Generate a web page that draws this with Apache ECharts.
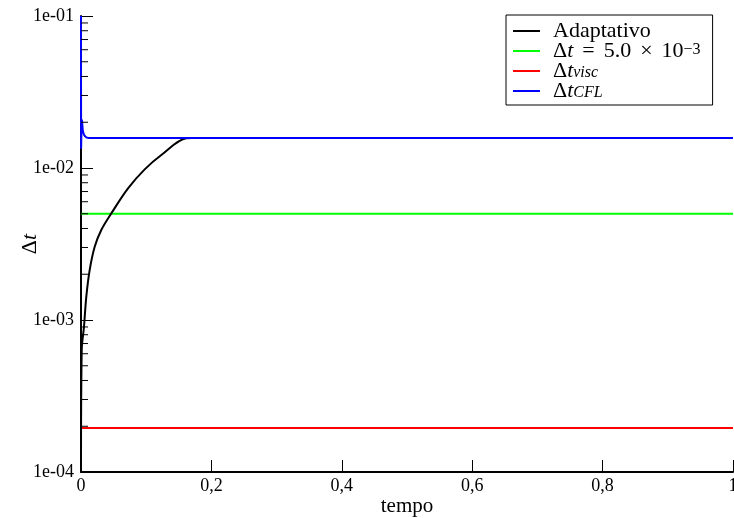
<!DOCTYPE html>
<html>
<head>
<meta charset="utf-8">
<script src="https://cdn.jsdelivr.net/npm/echarts@6/dist/echarts.min.js"></script>
<style>html,body{margin:0;padding:0;background:#fff}#c{width:734px;height:518px}</style>
</head>
<body>
<div id="c"></div>
<script>
// ---- data ----
var xTicks = [0, 0.2, 0.4, 0.6, 0.8, 1];
var yDecades = [1e-4, 1e-3, 1e-2, 1e-1];
var seriesNames = ['Adaptativo', 'dt_fixed', 'dt_visc', 'dt_cfl'];
var adaptT = [0, 0.0011, 0.0046, 0.0081, 0.0133, 0.0210, 0.0311, 0.0465, 0.0721, 0.0977, 0.1232, 0.1615, 0.17, 1];
var adaptV = [1e-4, 0.000635, 0.000904, 0.00142, 0.00213, 0.00303, 0.00391, 0.00503, 0.00735, 0.0098, 0.01218, 0.01569, 0.01575, 0.01575];
var fixedT = [0, 1];
var fixedV = [0.005, 0.005];
var viscT = [0, 1];
var viscV = [0.000195, 0.000195];
var cflT = [0, 0.0002, 0.0015, 0.003, 0.006, 0.012, 1];
var cflV = [0.1, 0.0135, 0.0207, 0.0175, 0.0162, 0.01575, 0.01575];
var minorMult = [2, 3, 4, 5, 6, 7, 8, 9];

function pairs(t, v) { return t.map(function (x, i) { return [x, v[i]]; }); }
var minorTicks = [];
yDecades.slice(0, 3).forEach(function (d) { minorMult.forEach(function (m) { minorTicks.push([0, d * m]); }); });

var FONT = '"Liberation Serif", "DejaVu Serif", serif';
var chart = echarts.init(document.getElementById('c'), null, { renderer: 'canvas' });

var legendLabels = {
  'Adaptativo': 'Adaptativo',
  'dt_fixed': '{n|Δ}{i|t}{op|=}5.0{op|×}10{sup|−3}',
  'dt_visc': '{n|Δ}{i|t}{sub|visc}',
  'dt_cfl': '{n|Δ}{i|t}{sub|CFL}'
};

chart.setOption({
  animation: false,
  backgroundColor: '#fff',
  grid: { left: 81, right: 1, top: 16, bottom: 46, containLabel: false, outerBoundsMode: 'none' },
  legend: {
    data: seriesNames,
    orient: 'vertical',
    left: 506, top: 15,
    padding: [5, 12, 3, 7],
    itemGap: -2,
    itemWidth: 27,
    itemHeight: 2,
    icon: 'rect',
    borderColor: '#000', borderWidth: 1,
    formatter: function (name) { return legendLabels[name]; },
    textStyle: {
      fontFamily: FONT, fontSize: 22, color: '#000', padding: [0, 0, 0, 8], lineHeight: 19,
      rich: {
        n: { fontFamily: FONT, fontSize: 22, lineHeight: 19 },
        i: { fontFamily: FONT, fontSize: 22, fontStyle: 'italic', lineHeight: 19 },
        op: { fontFamily: FONT, fontSize: 22, lineHeight: 19, padding: [0, 9, 0, 9] },
        sup: { fontFamily: FONT, fontSize: 16, lineHeight: 8, verticalAlign: 'top' },
        sub: { fontFamily: FONT, fontSize: 16, fontStyle: 'italic', lineHeight: 9, verticalAlign: 'bottom' }
      }
    }
  },
  xAxis: {
    type: 'value', min: 0, max: 1, interval: 0.2,
    name: 'tempo', nameLocation: 'middle', nameGap: 24, nameMoveOverlap: false,
    nameTextStyle: { fontFamily: FONT, fontSize: 21, color: '#000' },
    axisLine: { show: true, onZero: false, lineStyle: { color: '#000', width: 2 } },
    axisTick: { show: true, inside: true, length: 12, lineStyle: { color: '#000', width: 1 } },
    axisLabel: { fontFamily: FONT, fontSize: 18, color: '#000', margin: 5,
      formatter: function (v) { return String(v).replace('.', ','); } },
    splitLine: { show: false }
  },
  yAxis: {
    type: 'log', logBase: 10, min: 1e-4, max: 1e-1,
    name: '{n|Δ}{i|t}', nameLocation: 'middle', nameGap: 40, nameRotate: 90, nameMoveOverlap: false,
    nameTextStyle: { fontFamily: FONT, fontSize: 22, color: '#000',
      rich: { n: { fontFamily: FONT, fontSize: 22 }, i: { fontFamily: FONT, fontSize: 22, fontStyle: 'italic' } } },
    axisLine: { show: true, lineStyle: { color: '#000', width: 2 } },
    axisTick: { show: true, inside: true, length: 12, lineStyle: { color: '#000', width: 1 } },
    axisLabel: { fontFamily: FONT, fontSize: 18, color: '#000', margin: 7,
      formatter: function (v) { var e = Math.round(Math.log10(v)); var a = Math.abs(e); return '1e' + (e < 0 ? '-' : '+') + (a < 10 ? '0' : '') + a; } },
    splitLine: { show: false }
  },
  series: [
    { name: 'Adaptativo', type: 'line', data: pairs(adaptT, adaptV), showSymbol: false, smooth: 0.35,
      lineStyle: { color: '#000', width: 2 }, itemStyle: { color: '#000' }, z: 3 },
    { name: 'dt_fixed', type: 'line', data: pairs(fixedT, fixedV), showSymbol: false,
      lineStyle: { color: '#00ff00', width: 2 }, itemStyle: { color: '#00ff00' }, z: 2 },
    { name: 'dt_visc', type: 'line', data: pairs(viscT, viscV), showSymbol: false,
      lineStyle: { color: '#ff0000', width: 2 }, itemStyle: { color: '#ff0000' }, z: 2 },
    { name: 'dt_cfl', type: 'line', data: pairs(cflT, cflV), showSymbol: false, smooth: 0.3,
      lineStyle: { color: '#0000ff', width: 2 }, itemStyle: { color: '#0000ff' }, z: 4 },
    { name: 'minor', type: 'custom', silent: true, clip: false, z: 5,
      data: minorTicks,
      renderItem: function (params, api) {
        var p = api.coord([api.value(0), api.value(1)]);
        return { type: 'line', shape: { x1: p[0], y1: p[1], x2: p[0] + 7, y2: p[1] },
          style: { stroke: '#000', lineWidth: 1 } };
      }
    }
  ]
});
</script>
</body>
</html>
